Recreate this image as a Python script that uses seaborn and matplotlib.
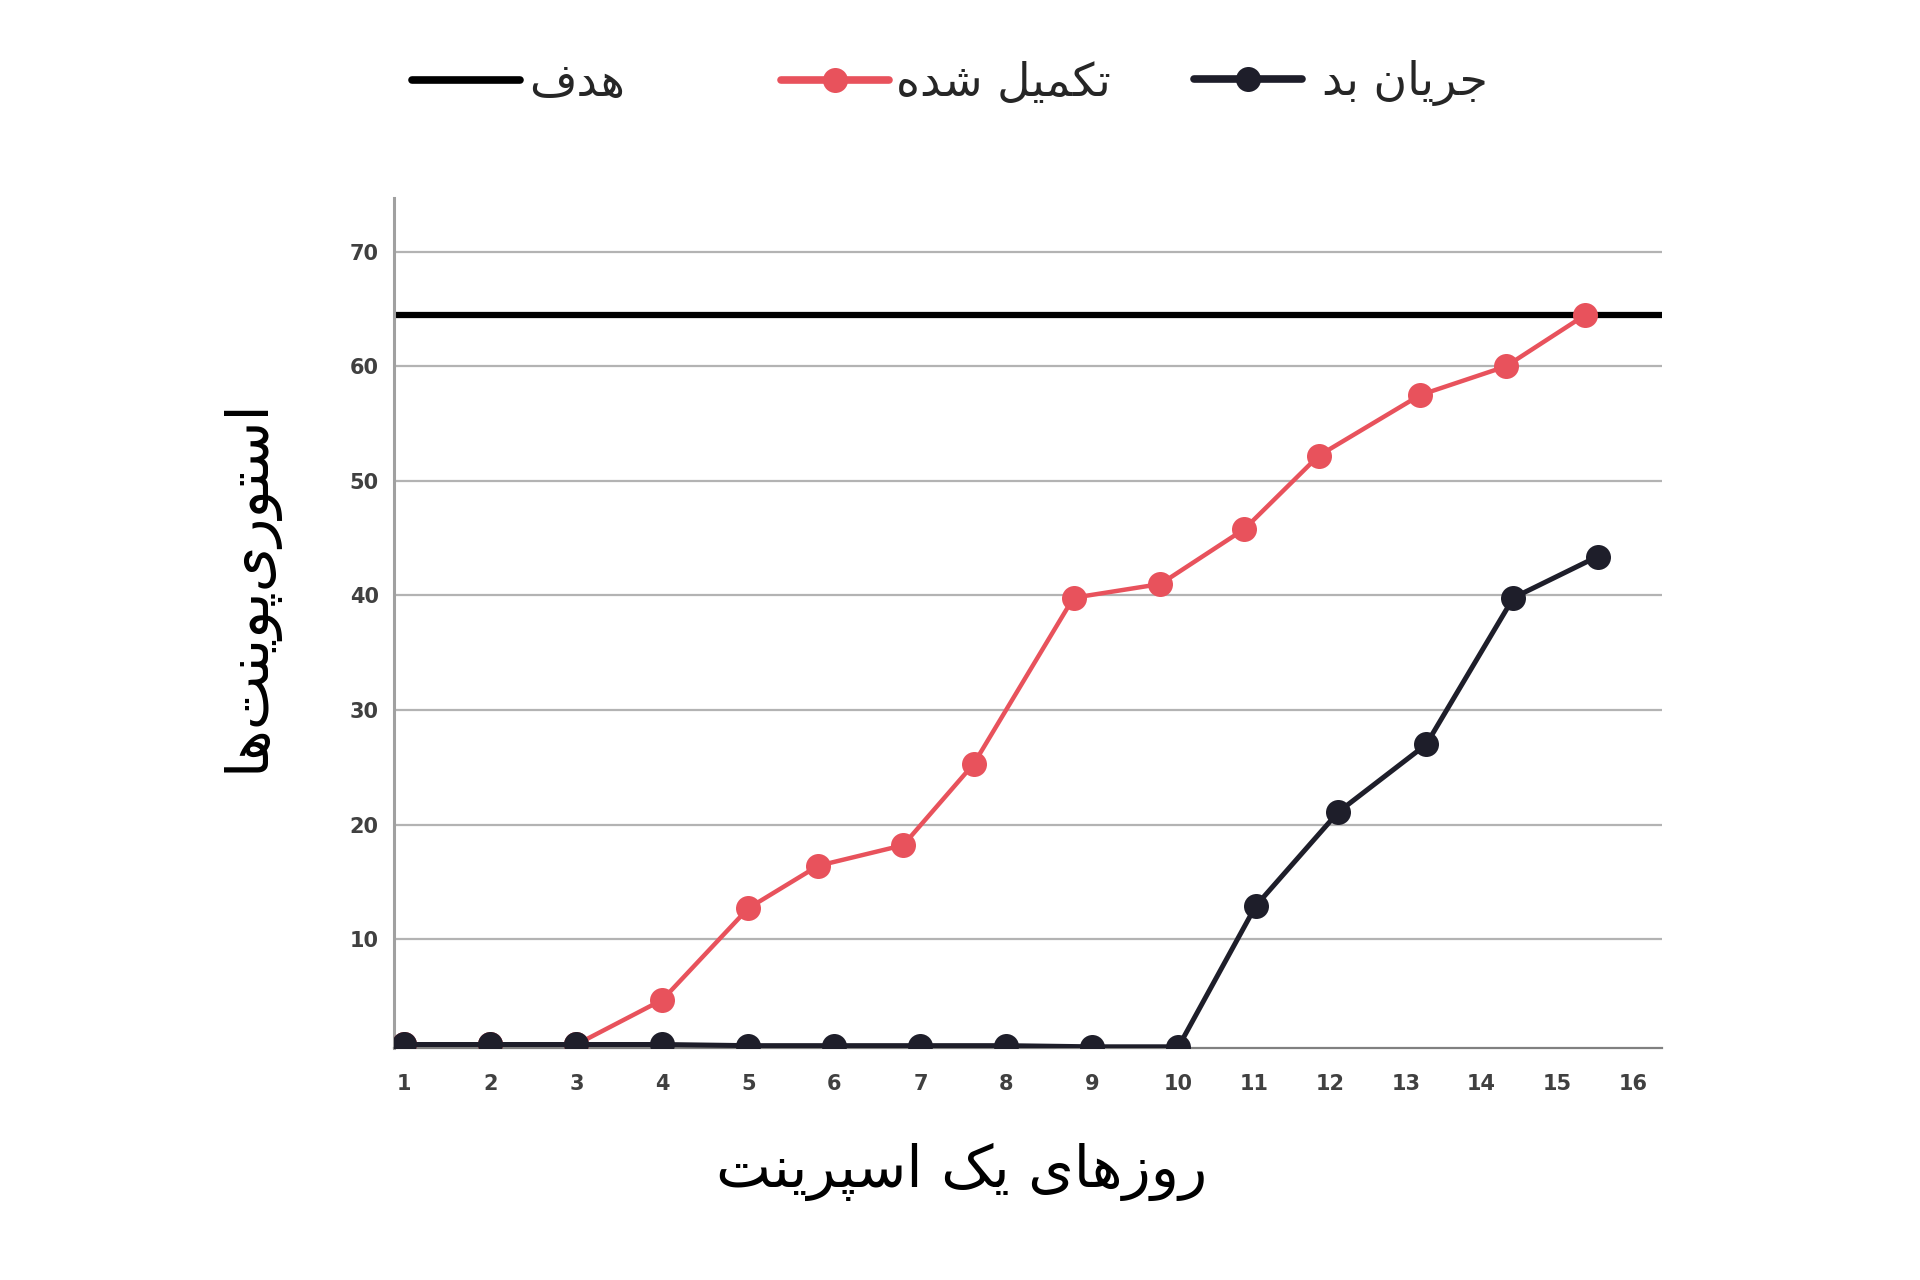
import numpy as np
import pandas as pd
import seaborn as sns
import matplotlib.pyplot as plt

# data
days_done = [1, 2, 3, 4, 5, 5.81, 6.8, 7.62, 8.78, 9.79, 10.87, 11.85, 13.19, 14.32, 15.37]
points_done = [0.8, 0.8, 0.8, 4.7, 12.7, 16.4, 18.2, 25.3, 39.8, 41.0, 45.8, 52.2, 57.5, 60.0, 64.5]
days_bad = [1, 2, 3, 4, 5, 6, 7, 8, 9, 10, 11.02, 12.11, 13.27, 14.42, 15.53]
points_bad = [0.8, 0.8, 0.8, 0.8, 0.7, 0.7, 0.7, 0.7, 0.6, 0.6, 12.9, 21.1, 27.0, 39.8, 43.4]
goal = 64.5
x_ticks = list(range(1, 17))
y_ticks = [10, 20, 30, 40, 50, 60, 70]

label_goal = "هدف"
label_done = "تکمیل شده"
label_bad = "جریان بد"
x_title = "روزهای یک اسپرینت"
y_title = "استوری\u200cپوینت\u200cها"

# --- minimal Persian shaping (matplotlib has no RTL / joining support) ---
FORMS = {  # isolated, final, initial, medial
    'ا': ('\uFE8D', '\uFE8E', None, None),
    'ب': ('\uFE8F', '\uFE90', '\uFE91', '\uFE92'),
    'پ': ('\uFB56', '\uFB57', '\uFB58', '\uFB59'),
    'ت': ('\uFE95', '\uFE96', '\uFE97', '\uFE98'),
    'ج': ('\uFE9D', '\uFE9E', '\uFE9F', '\uFEA0'),
    'د': ('\uFEA9', '\uFEAA', None, None),
    'ر': ('\uFEAD', '\uFEAE', None, None),
    'ز': ('\uFEAF', '\uFEB0', None, None),
    'س': ('\uFEB1', '\uFEB2', '\uFEB3', '\uFEB4'),
    'ش': ('\uFEB5', '\uFEB6', '\uFEB7', '\uFEB8'),
    'ف': ('\uFED1', '\uFED2', '\uFED3', '\uFED4'),
    'ک': ('\uFB8E', '\uFB8F', '\uFB90', '\uFB91'),
    'ل': ('\uFEDD', '\uFEDE', '\uFEDF', '\uFEE0'),
    'م': ('\uFEE1', '\uFEE2', '\uFEE3', '\uFEE4'),
    'ن': ('\uFEE5', '\uFEE6', '\uFEE7', '\uFEE8'),
    'ه': ('\uFEE9', '\uFEEA', '\uFEEB', '\uFEEC'),
    'و': ('\uFEED', '\uFEEE', None, None),
    'ی': ('\uFBFC', '\uFBFD', '\uFBFE', '\uFBFF'),
}


def fa(text):
    def dual(c):
        return c in FORMS and FORMS[c][2] is not None
    out = []
    for i, c in enumerate(text):
        if c not in FORMS:
            if c != '\u200c':
                out.append(c)
            continue
        prev = text[i - 1] if i > 0 else ''
        nxt = text[i + 1] if i + 1 < len(text) else ''
        lp = dual(prev)
        ln = dual(c) and nxt in FORMS
        iso, fin, ini, med = FORMS[c]
        out.append(med if lp and ln else fin if lp else ini if ln else iso)
    return ''.join(reversed(out))


# day axis in the reference is stretched for days 1-10
r = 0.881


def fwd(x):
    x = np.asarray(x, dtype=float)
    return np.where(x <= 10, x, 10 + (x - 10) * r)


def inv(y):
    y = np.asarray(y, dtype=float)
    return np.where(y <= 10, y, 10 + (y - 10) / r)


sns.set_style("white")
plt.rcParams['font.family'] = ['DejaVu Sans']

red = '#E8525C'
dark = '#1E1E2A'

fig = plt.figure(figsize=(19.2, 12.8), dpi=100)
ax = fig.add_axes([0.2052, 0.1813, 0.6604, 0.664])

ax.axhline(goal, color='black', linewidth=4.5, label=fa(label_goal), zorder=2)
sns.lineplot(x=days_done, y=points_done, ax=ax, color=red, linewidth=3.2, marker='o',
             markersize=18, markeredgewidth=0, label=fa(label_done), zorder=3)
sns.lineplot(x=days_bad, y=points_bad, ax=ax, color=dark, linewidth=3.6, marker='o',
             markersize=18, markeredgewidth=0, label=fa(label_bad), zorder=4)

ax.set_xscale('function', functions=(fwd, inv))
ax.set_xlim(0.88, 16.38)
ax.set_ylim(0.5, 74.7)
ax.set_xticks(x_ticks)
ax.set_yticks(y_ticks)
ax.yaxis.grid(True, color='#b3b3b3', linewidth=1.6)
ax.xaxis.grid(False)

for s in ['top', 'right']:
    ax.spines[s].set_visible(False)
ax.spines['left'].set_color('#a0a0a0')
ax.spines['left'].set_linewidth(2.2)
ax.spines['bottom'].set_color('#808080')
ax.spines['bottom'].set_linewidth(1.6)

ax.tick_params(axis='x', direction='in', length=7, width=1.2, color='#a0a0a0', pad=19,
               labelsize=15, labelcolor='#404040')
ax.tick_params(axis='y', length=0, pad=11, labelsize=15, labelcolor='#404040')
for t in ax.get_xticklabels() + ax.get_yticklabels():
    t.set_fontweight('bold')

ax.set_xlabel(fa(x_title), fontsize=42, color='black')
ax.xaxis.set_label_coords(0.448, -0.112)
ax.set_ylabel(fa(y_title), fontsize=42, color='black')
ax.yaxis.set_label_coords(-0.092, 0.545)

# legend entries laid out one by one, as in the reference
handles, labels = ax.get_legend_handles_labels()
ax.get_legend().remove()
legend_x = [0.2148, 0.4068, 0.6219]
legend_pad = [0.2, 0.15, 0.45]
for h, lab, lx, lp in zip(handles, labels, legend_x, legend_pad):
    leg = fig.legend([h], [lab], loc='center left', bbox_to_anchor=(lx, 0.935),
                     frameon=False, fontsize=33, handlelength=2.35, handletextpad=lp,
                     borderpad=0, borderaxespad=0)
    for lh in leg.legend_handles:
        lh.set_linewidth(5.5)

fig.savefig('out.png', dpi=100, facecolor='white')
